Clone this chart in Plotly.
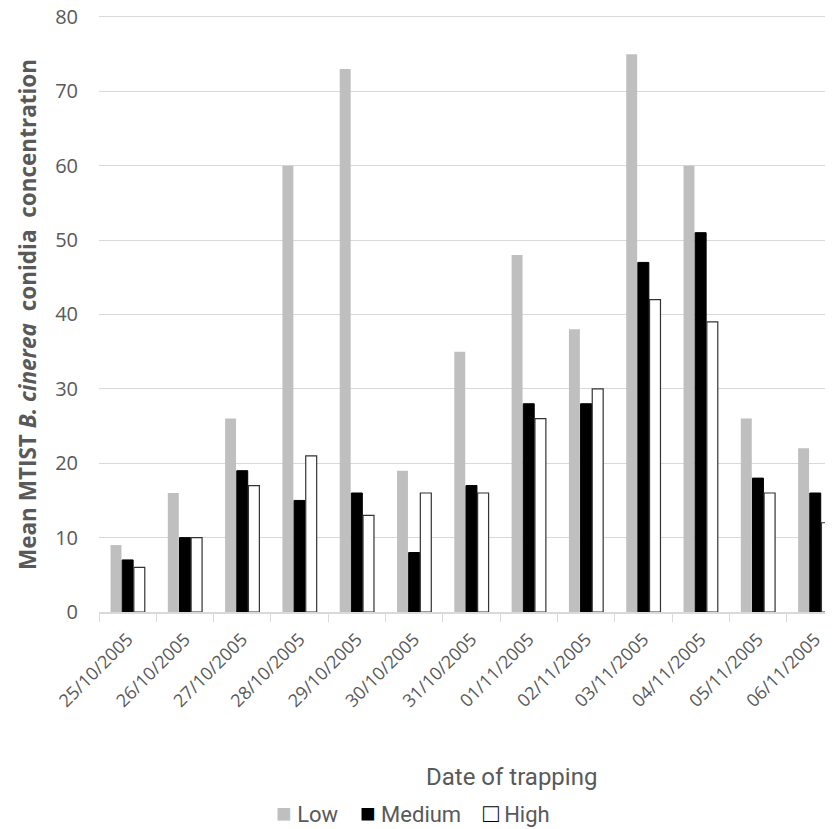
import plotly.graph_objects as go

dates = ["25/10/2005", "26/10/2005", "27/10/2005", "28/10/2005", "29/10/2005",
         "30/10/2005", "31/10/2005", "01/11/2005", "02/11/2005", "03/11/2005",
         "04/11/2005", "05/11/2005", "06/11/2005"]
low = [9, 16, 26, 60, 73, 19, 35, 48, 38, 75, 60, 26, 22]
medium = [7, 10, 19, 15, 16, 8, 17, 28, 28, 47, 51, 18, 16]
high = [6, 10, 17, 21, 13, 16, 16, 26, 30, 42, 39, 16, 12]
series_names = ["Low", "Medium", "High"]
y_ticks = [0, 10, 20, 30, 40, 50, 60, 70, 80]

# page body has an 8px margin: work in figure coords = screen coords - 8
OFF = 8
W, H = 833 - OFF, 829 - OFF
y_top_val = 80.4
ppu = (612 - 17) / 80.0
plot_top_screen = 17 - (y_top_val - 80) * ppu
ML, MR = 99 - OFF, 0
MT = plot_top_screen - OFF
plot_bottom = 612 - OFF
MB = H - plot_bottom
pw = W - ML - MR
ph = H - MT - MB

def px_x(x):
    return (x - OFF - ML) / pw

def px_y(y):
    return (plot_bottom - (y - OFF)) / ph

gray_txt = "#595959"
font_main = "Open Sans, DejaVu Sans, sans-serif"
font_narrow = "Roboto, Open Sans, sans-serif"

colors = ["#BFBFBF", "#000000", "#FFFFFF"]
lines = [dict(width=0), dict(color="#000000", width=1), dict(color="#333333", width=1.2)]

fig = go.Figure()
for name, vals, c, ln in zip(series_names, [low, medium, high], colors, lines):
    fig.add_bar(name=name, x=dates, y=vals, marker=dict(color=c, line=ln))

cat_w = 57.3
range_end = -0.5 + (833 - 99) / cat_w

sq = '<span style="color:{};font-size:26px">{}</span>'
legend_text = (
    sq.format("#BFBFBF", "■") + ' ' + series_names[0] + '    '
    + sq.format("#000000", "■") + ' ' + series_names[1] + '    '
    + sq.format("#000000", "□") + ' ' + series_names[2]
)

fig.update_layout(
    width=W, height=H,
    margin=dict(l=ML, r=MR, t=MT, b=MB, autoexpand=False),
    plot_bgcolor="white", paper_bgcolor="white",
    barmode="group", bargap=0.39, bargroupgap=0.06,
    showlegend=False,
    xaxis=dict(
        type="category",
        range=[-0.5, range_end],
        tickson="boundaries", ticks="outside", ticklen=8, tickcolor="#D9D9D9",
        showline=True, linecolor="#D9D9D9", linewidth=1.5,
        showgrid=False,
        tickangle=-45, ticklabelstandoff=8,
        ticklabeloverflow="allow",
        tickfont=dict(family=font_main, size=18, color=gray_txt),
    ),
    yaxis=dict(
        range=[0, y_top_val], tickvals=y_ticks,
        showgrid=True, gridcolor="#D9D9D9", gridwidth=1.2,
        zeroline=False, showline=False,
        ticks="", ticklabelstandoff=20,
        ticklabeloverflow="allow",
        tickfont=dict(family=font_main, size=20, color=gray_txt),
    ),
    annotations=[
        dict(text="Date of trapping", x=px_x(511), y=px_y(777), xref="paper", yref="paper",
             showarrow=False, xanchor="center", yanchor="middle",
             font=dict(family=font_narrow, size=24, color=gray_txt)),
        dict(text=legend_text, x=px_x(413), y=px_y(813), xref="paper", yref="paper",
             showarrow=False, xanchor="center", yanchor="middle",
             font=dict(family=font_narrow, size=22, color=gray_txt)),
        dict(text="<b>Mean MTIST <i>B. cinerea</i>  conidia  concentration</b>",
             x=px_x(28), y=px_y(315), xref="paper", yref="paper",
             showarrow=False, xanchor="center", yanchor="middle", textangle=-90,
             font=dict(family=font_main, size=22.5, color=gray_txt)),
    ],
)

fig.write_html("out.html")
